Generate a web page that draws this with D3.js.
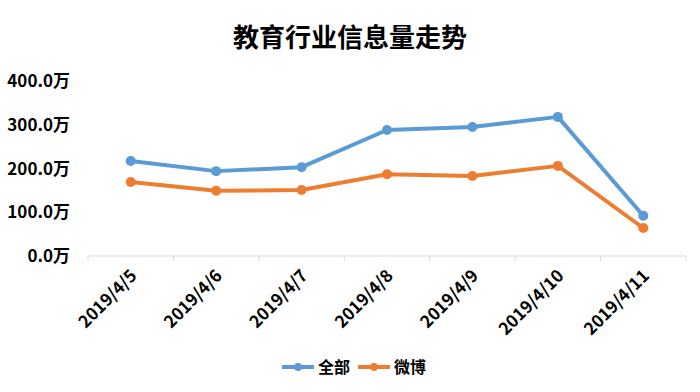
<!DOCTYPE html>
<html lang="zh">
<head>
<meta charset="UTF-8">
<title>教育行业信息量走势</title>
<script src="https://d3js.org/d3.v7.min.js"></script>
<style>
  html, body { margin: 0; background: #fff; }
  body { width: 700px; height: 392px; overflow: hidden; font-family: "Noto Sans CJK SC", "Noto Sans", sans-serif; }
  text { font-family: "Noto Sans CJK SC", "Noto Sans", sans-serif; }
</style>
</head>
<body>
<div id="chart"></div>
<script>
const dates = ["2019/4/5", "2019/4/6", "2019/4/7", "2019/4/8", "2019/4/9", "2019/4/10", "2019/4/11"];
const allValues = [217, 194, 203, 288, 295, 318, 92];
const weiboValues = [169, 149, 151, 187, 183, 206, 64];
const yTicks = [0, 100, 200, 300, 400];
const seriesNames = ["全部", "微博"];
const seriesColors = ["#5b9bd5", "#ed7d31"];

const width = 700, height = 392;
const plotLeft = 88, plotRight = 686, plotTop = 81, plotBottom = 256;

const svg = d3.select("#chart").append("svg")
    .attr("width", width)
    .attr("height", height);

svg.append("text")
    .attr("x", 350)
    .attr("y", 47)
    .attr("text-anchor", "middle")
    .attr("font-size", 26)
    .attr("font-weight", "bold")
    .attr("fill", "#000")
    .text("教育行业信息量走势");

const x = d3.scaleBand().domain(dates).range([plotLeft, plotRight]);
const y = d3.scaleLinear().domain([0, 400]).range([plotBottom, plotTop]);

// y labels
svg.append("g")
    .selectAll("text")
    .data(yTicks)
    .enter().append("text")
    .attr("x", 70)
    .attr("y", d => y(d))
    .attr("dy", "0.36em")
    .attr("text-anchor", "end")
    .attr("font-size", 17)
    .attr("font-weight", "bold")
    .attr("fill", "#000")
    .text(d => d.toFixed(1) + "万");

// x axis line + ticks at category boundaries
const xAxis = svg.append("g");
xAxis.append("line")
    .attr("x1", plotLeft).attr("x2", plotRight)
    .attr("y1", plotBottom).attr("y2", plotBottom)
    .attr("stroke", "#d9d9d9").attr("stroke-width", 1);
const bounds = dates.map(d => x(d)).concat([plotRight]);
xAxis.selectAll(".tick")
    .data(bounds)
    .enter().append("line")
    .attr("x1", d => d).attr("x2", d => d)
    .attr("y1", plotBottom).attr("y2", plotBottom + 5)
    .attr("stroke", "#d9d9d9").attr("stroke-width", 1);

xAxis.selectAll(".xlabel")
    .data(dates)
    .enter().append("text")
    .attr("transform", d => `translate(${x(d) + x.bandwidth() / 2 - 2},${plotBottom + 12}) rotate(-45)`)
    .attr("text-anchor", "end")
    .attr("dy", "0.75em")
    .attr("font-size", 17)
    .attr("font-weight", "bold")
    .attr("fill", "#000")
    .text(d => d);

// lines
const cx = d => x(d) + x.bandwidth() / 2;
const line = d3.line()
    .x((v, i) => cx(dates[i]))
    .y(v => y(v));

[allValues, weiboValues].forEach((vals, si) => {
    svg.append("path")
        .datum(vals)
        .attr("d", line)
        .attr("fill", "none")
        .attr("stroke", seriesColors[si])
        .attr("stroke-width", 4)
        .attr("stroke-linejoin", "round")
        .attr("stroke-linecap", "round");
    svg.append("g")
        .selectAll("circle")
        .data(vals)
        .enter().append("circle")
        .attr("cx", (v, i) => cx(dates[i]))
        .attr("cy", v => y(v))
        .attr("r", 5)
        .attr("fill", seriesColors[si]);
});

// legend
const legend = svg.append("g");
const legendX = [282, 358];
seriesNames.forEach((name, i) => {
    const g = legend.append("g").attr("transform", `translate(${legendX[i]},367)`);
    g.append("line")
        .attr("x1", 0).attr("x2", 32)
        .attr("y1", 0).attr("y2", 0)
        .attr("stroke", seriesColors[i]).attr("stroke-width", 4);
    g.append("circle")
        .attr("cx", 16).attr("cy", 0).attr("r", 4)
        .attr("fill", seriesColors[i]);
    g.append("text")
        .attr("x", 36).attr("y", 0)
        .attr("dy", "0.36em")
        .attr("font-size", 16)
        .attr("font-weight", "bold")
        .attr("fill", "#000")
        .text(name);
});
</script>
</body>
</html>
